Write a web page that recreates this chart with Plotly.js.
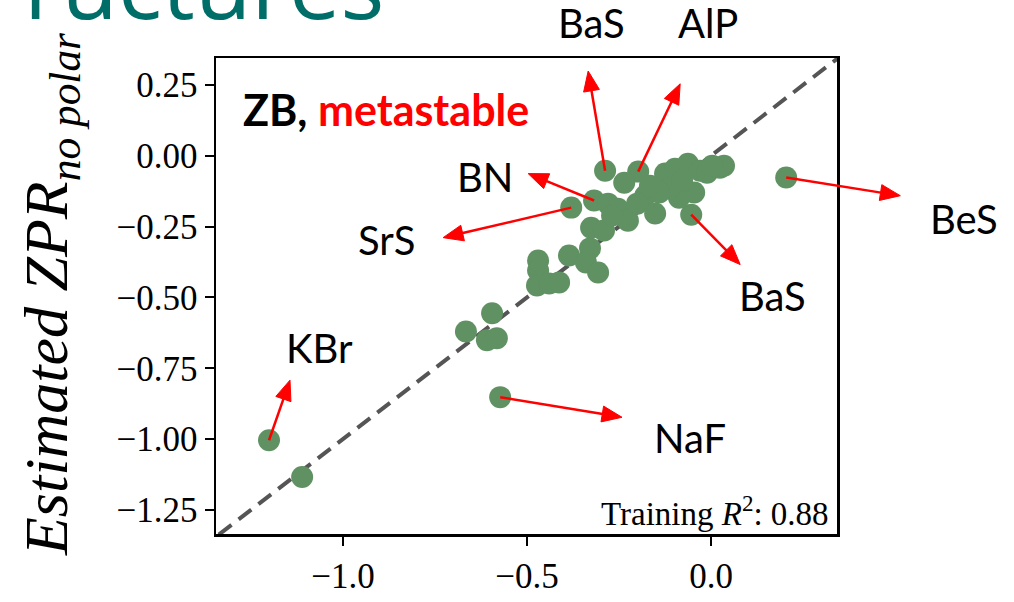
<!DOCTYPE html>
<html>
<head>
<meta charset="utf-8">
<script src="https://cdn.plot.ly/plotly-3.0.1.min.js"></script>
<style>html,body{margin:0;padding:0;background:#fff;}#chart{width:1014px;height:602px;}</style>
</head>
<body>
<div id="chart"></div>
<script>
// ---- data ----
const calcZPR = [-1.201,-1.111,-0.573,-0.666,-0.595,-0.609,-0.582,-0.470,-0.470,-0.473,-0.440,-0.413,-0.386,-0.329,-0.340,-0.307,-0.326,-0.291,-0.380,-0.318,-0.280,-0.253,-0.226,-0.288,-0.198,-0.236,-0.179,-0.201,-0.152,-0.054,-0.125,-0.098,-0.063,-0.030,0.024,0.035,-0.046,-0.087,-0.114,-0.141,0.204,-0.079,-0.011,0.003,-0.166,-0.269];
const estZPR  = [-1.004,-1.134,-0.852,-0.620,-0.556,-0.651,-0.644,-0.370,-0.405,-0.458,-0.451,-0.447,-0.352,-0.327,-0.377,-0.412,-0.254,-0.264,-0.183,-0.158,-0.169,-0.187,-0.229,-0.053,-0.056,-0.095,-0.141,-0.169,-0.204,-0.208,-0.063,-0.046,-0.028,-0.053,-0.042,-0.035,-0.130,-0.148,-0.116,-0.130,-0.077,-0.088,-0.060,-0.035,-0.106,-0.211];

// labelled outliers: name, point, arrow head, label centre (data units)
const labelNames = ['BaS','AlP','BN','SrS','BaS','BeS','KBr','NaF'];
const labelPtX   = [-0.288,-0.198,-0.318,-0.380,-0.054,0.204,-1.201,-0.573];
const labelPtY   = [-0.053,-0.056,-0.158,-0.183,-0.208,-0.077,-1.004,-0.852];
const arrowHeadX = [-0.334,-0.084,-0.497,-0.728,0.079,0.514,-1.144,-0.242];
const arrowHeadY = [0.299,0.254,-0.063,-0.289,-0.384,-0.141,-0.792,-0.923];
const labelX     = [-0.326,-0.008,-0.614,-0.883,0.166,0.688,-1.063,-0.057];
const labelY     = [0.468,0.468,-0.074,-0.299,-0.496,-0.222,-0.680,-0.996];

const xTickVals = [-1.0,-0.5,0.0];
const xTickText = ['\u22121.0','\u22120.5','0.0'];
const yTickVals = [0.25,0,-0.25,-0.5,-0.75,-1.0,-1.25];
const yTickText = ['0.25','0.00','\u22120.25','\u22120.50','\u22120.75','\u22121.00','\u22121.25'];

const r2Text = 'Training <i>R</i><sup>2</sup>: 0.88';

// ---- layout geometry ----
const W = 1014, H = 602;
const M = {l:216, r:177, t:58, b:68};
const xRange = [-1.345, 0.342];
const yRange = [-1.335, 0.345];
const pw = W - M.l - M.r, ph = H - M.t - M.b;
const d2pX = x => (x - xRange[0])/(xRange[1]-xRange[0]);
const d2pY = y => (y - yRange[0])/(yRange[1]-yRange[0]);
const px2pX = px => (px - M.l)/pw;
const py2pY = py => (H - M.b - py)/ph;

const lo = Math.min(xRange[0], yRange[0]) - 0.1, hi = Math.max(xRange[1], yRange[1]) + 0.1;

const traces = [
  {x:[lo,hi], y:[lo,hi], mode:'lines', line:{color:'#555555', width:4, dash:'16px,9px'}, hoverinfo:'skip', showlegend:false},
  {x:calcZPR, y:estZPR, mode:'markers', marker:{size:22, color:'#5f9162', line:{width:0}}, showlegend:false}
];

// red arrows as shapes in paper coords (not clipped)
const shapes = [];
const headLen = 20, headHalf = 8;
for (let i=0;i<labelNames.length;i++){
  const x0 = d2pX(labelPtX[i])*pw, y0 = d2pY(labelPtY[i])*ph;      // px (y up)
  const x1 = d2pX(arrowHeadX[i])*pw, y1 = d2pY(arrowHeadY[i])*ph;
  const dx = x1-x0, dy = y1-y0, len = Math.hypot(dx,dy);
  const ux = dx/len, uy = dy/len, nx = -uy, ny = ux;
  const bx = x1 - headLen*ux, by = y1 - headLen*uy;
  shapes.push({type:'line', xref:'paper', yref:'paper', x0:x0/pw, y0:y0/ph, x1:(bx+2*ux)/pw, y1:(by+2*uy)/ph,
    line:{color:'#ff0000', width:2.5}});
  const p = (a,b) => (a/pw).toFixed(5)+','+(b/ph).toFixed(5);
  shapes.push({type:'path', xref:'paper', yref:'paper',
    path:'M'+p(x1,y1)+' L'+p(bx+headHalf*nx, by+headHalf*ny)+' L'+p(bx-headHalf*nx, by-headHalf*ny)+' Z',
    fillcolor:'#ff0000', line:{color:'#ff0000', width:1}});
}

const ann = [];
for (let i=0;i<labelNames.length;i++){
  ann.push({xref:'paper', yref:'paper', x:d2pX(labelX[i]), y:d2pY(labelY[i]), xanchor:'center', yanchor:'middle',
    text:labelNames[i], showarrow:false, font:{family:'Lato, sans-serif', size:40, color:'#000'}});
}
ann.push({xref:'paper', yref:'paper', x:px2pX(241), y:py2pY(110), xanchor:'left', yanchor:'middle', showarrow:false,
  text:'<b>ZB, <span style="color:#ff0000">metastable</span></b>', font:{family:'Lato, sans-serif', size:43, color:'#000'}});
ann.push({xref:'paper', yref:'paper', x:px2pX(831), y:py2pY(511), xanchor:'right', yanchor:'middle', showarrow:false,
  text:r2Text, font:{family:'Liberation Serif, serif', size:33, color:'#000'}});
ann.push({xref:'paper', yref:'paper', x:px2pX(50), y:py2pY(558), xanchor:'center', yanchor:'bottom', showarrow:false, textangle:-90,
  text:'<i>Estimated ZPR<sub>no polar</sub></i>', font:{family:'Liberation Serif, serif', size:62, color:'#000'}});
ann.push({xref:'paper', yref:'paper', x:px2pX(386), y:py2pY(48), xanchor:'right', yanchor:'bottom', showarrow:false,
  text:'ructures', font:{family:'Open Sans, sans-serif', size:92, color:'#006e68'}});

const axisCommon = {showline:true, mirror:true, linecolor:'#000', linewidth:2.5, ticks:'outside', ticklen:9, tickwidth:2,
  tickcolor:'#000', showgrid:false, zeroline:false, tickfont:{family:'Liberation Serif, serif', size:35, color:'#000'}};

const layout = {
  width:W, height:H, margin:M, paper_bgcolor:'#fff', plot_bgcolor:'#fff', showlegend:false,
  xaxis:Object.assign({}, axisCommon, {range:xRange, tickvals:xTickVals, ticktext:xTickText}),
  yaxis:Object.assign({}, axisCommon, {range:yRange, tickvals:yTickVals, ticktext:yTickText}),
  annotations:ann, shapes:shapes
};

Plotly.newPlot('chart', traces, layout, {staticPlot:true});
</script>
</body>
</html>
